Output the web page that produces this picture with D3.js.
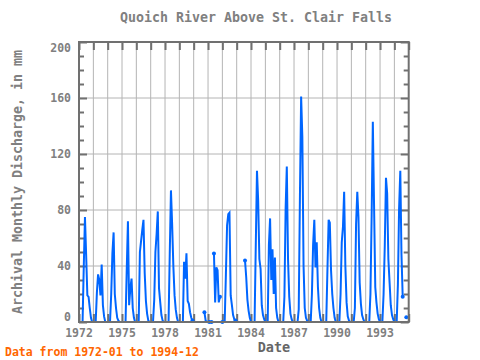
<!DOCTYPE html>
<html><head><meta charset="utf-8">
<script src="https://cdn.jsdelivr.net/npm/d3@7/dist/d3.min.js"></script>
<style>body{margin:0;background:#fff}svg{display:block}</style>
</head><body>
<svg id="chart" width="480" height="360"></svg>
<script>
// Monthly discharge (mm), Jan..Dec, null = missing
const q1972 = [0,0,0,0,39,75,48,19,18,10,3,0];
const q1973 = [0,0,0,21,34,30,19,41,12,4,0,0];
const q1974 = [0,0,0,20,49,64,20,10,3,1,0,0];
const q1975 = [0,0,0,0,37,72,12,24,31,10,3,0];
const q1976 = [0,0,0,50,58,66,73,35,15,6,1,0];
const q1977 = [0,0,0,16,50,63,79,24,14,5,1,0];
const q1978 = [0,0,0,0,48,94,70,40,19,9,3,0];
const q1979 = [0,0,0,0,43,31,49,15,13,7,3,1];
const q1980 = [null,null,null,null,null,null,null,null,null,7,1,0];
const q1981 = [0,0,null,0,null,49,14,39,37,14,18,null];
const q1982 = [0,0,0,34,69,77,78,19,12,5,2,1];
const q1983 = [null,null,null,null,null,null,null,44,32,16,8,3];
const q1984 = [0,0,0,0,54,108,87,45,38,12,5,2];
const q1985 = [0,0,0,55,74,30,52,20,46,10,3,0];
const q1986 = [0,0,0,0,18,81,111,45,18,6,2,0];
const q1987 = [0,0,0,0,9,91,161,132,40,10,3,1];
const q1988 = [0,0,0,20,55,73,39,57,25,10,3,0];
const q1989 = [0,0,0,0,37,73,71,37,20,10,3,0];
const q1990 = [0,0,0,20,57,68,93,40,14,4,1,0];
const q1991 = [0,0,0,10,70,93,75,28,13,5,2,0];
const q1992 = [0,0,0,0,20,76,143,84,25,14,6,2];
const q1993 = [0,0,0,20,54,103,92,45,28,12,5,2];
const q1994 = [0,0,0,27,81,108,48,18,null,null,3.4,null];

const years = [1972,1973,1974,1975,1976,1977,1978,1979,1980,1981,1982,1983,
               1984,1985,1986,1987,1988,1989,1990,1991,1992,1993,1994];
const yearValues = [q1972,q1973,q1974,q1975,q1976,q1977,q1978,q1979,q1980,q1981,q1982,q1983,
                    q1984,q1985,q1986,q1987,q1988,q1989,q1990,q1991,q1992,q1993,q1994];
const xTickYears = [1972,1975,1978,1981,1984,1987,1990,1993];
const yTickValues = [0,40,80,120,160,200];

const titleText = "Quoich River Above St. Clair Falls";
const yTitle = "Archival Monthly Discharge, in mm";
const xTitle = "Date";
const noteText = "Data from 1972-01 to 1994-12";

const data = [];
years.forEach((yr, k) => yearValues[k].forEach((v, m) => data.push({date: new Date(Date.UTC(yr, m, 1)), v})));

const svg = d3.select("#chart");
const pL = 79, pR = 408.7, pT = 42, pB = 322;
const x = d3.scaleUtc().domain([new Date(Date.UTC(1972,0,1)), new Date(Date.UTC(1995,0,1))]).range([pL, pR]);
const y = d3.scaleLinear().domain([0, 200]).range([pB, pT]);

const gray = "#707070", grid = "#b4b4b4", textGray = "#808080";
const font = "'DejaVu Sans Mono', monospace";

svg.append("rect").attr("width", 480).attr("height", 360).attr("fill", "#fff");

// gridlines
const allYears = d3.range(1973, 1995).map(yr => new Date(Date.UTC(yr,0,1)));
svg.append("g").selectAll("line").data(allYears).join("line")
  .attr("x1", d => x(d)).attr("x2", d => x(d)).attr("y1", pT).attr("y2", pB)
  .attr("stroke", grid).attr("stroke-width", 1);
svg.append("g").selectAll("line").data([40,80,120,160]).join("line")
  .attr("x1", pL).attr("x2", pR).attr("y1", d => y(d)).attr("y2", d => y(d))
  .attr("stroke", grid).attr("stroke-width", 1);

// axes (ticks inward)
const tickYears = d3.range(1972, 1996).map(yr => new Date(Date.UTC(yr,0,1)));
const axTop = d3.axisBottom(x).tickValues(tickYears).tickSize(8).tickFormat("");
const axBot = d3.axisTop(x).tickValues(tickYears).tickSize(8).tickFormat("");
const yMinor = d3.range(0, 201, 10).filter(v => v % 40 !== 0);
const yMajor = d3.range(0, 201, 40);
function styleAxis(g){ g.select(".domain").remove(); g.selectAll("line").attr("stroke", gray).attr("stroke-width", 2); }
svg.append("g").attr("transform", `translate(0,${pT})`).call(axTop).call(styleAxis);
svg.append("g").attr("transform", `translate(0,${pB})`).call(axBot).call(styleAxis);
svg.append("g").attr("transform", `translate(${pL},0)`).call(d3.axisRight(y).tickValues(yMinor).tickSize(5).tickFormat("")).call(styleAxis);
svg.append("g").attr("transform", `translate(${pL},0)`).call(d3.axisRight(y).tickValues(yMajor).tickSize(8).tickFormat("")).call(styleAxis);
svg.append("g").attr("transform", `translate(${pR},0)`).call(d3.axisLeft(y).tickValues(yMinor).tickSize(5).tickFormat("")).call(styleAxis);
svg.append("g").attr("transform", `translate(${pR},0)`).call(d3.axisLeft(y).tickValues(yMajor).tickSize(8).tickFormat("")).call(styleAxis);

// data line
const blue = "#0066ff";
const line = d3.line().defined(d => d.v != null).x(d => x(d.date)).y(d => y(d.v));
svg.append("path").datum(data).attr("d", line).attr("fill", "none")
  .attr("stroke", blue).attr("stroke-width", 2).attr("stroke-linejoin", "miter");
const ends = data.filter((d, i) => d.v != null &&
  ((i > 0 && data[i-1].v == null) || (i < data.length-1 && data[i+1].v == null)));
svg.append("g").selectAll("circle").data(ends).join("circle")
  .attr("cx", d => x(d.date)).attr("cy", d => y(d.v)).attr("r", 2).attr("fill", blue);

// frame
svg.append("rect").attr("x", pL).attr("y", pT).attr("width", pR-pL).attr("height", pB-pT)
  .attr("fill", "none").attr("stroke", gray).attr("stroke-width", 2);

// y tick labels
svg.append("g").selectAll("text").data(yTickValues).join("text")
  .attr("x", 71).attr("y", d => d === 200 ? y(d)+6 : d === 0 ? y(d)-5 : y(d))
  .attr("dy", "0.35em").attr("text-anchor", "end")
  .attr("font-family", font).attr("font-size", 11.5).attr("font-weight", "bold").attr("fill", textGray)
  .text(d => d);

// x tick labels
svg.append("g").selectAll("text").data(xTickYears).join("text")
  .attr("x", d => x(new Date(Date.UTC(d,0,1)))).attr("y", 337).attr("text-anchor", "middle")
  .attr("font-family", font).attr("font-size", 11.5).attr("font-weight", "bold").attr("fill", textGray)
  .text(d => d);

// titles
svg.append("text").attr("x", 256).attr("y", 22).attr("text-anchor", "middle")
  .attr("font-family", font).attr("font-size", 13.3).attr("font-weight", "bold").attr("fill", textGray)
  .text(titleText);
svg.append("text").attr("transform", `translate(22,${(pT+pB)/2}) rotate(-90)`).attr("text-anchor", "middle")
  .attr("font-family", font).attr("font-size", 13.3).attr("font-weight", "bold").attr("fill", textGray)
  .text(yTitle);
svg.append("text").attr("x", 274).attr("y", 352).attr("text-anchor", "middle")
  .attr("font-family", font).attr("font-size", 13.5).attr("font-weight", "bold").attr("fill", "#666")
  .text(xTitle);
svg.append("text").attr("x", 5).attr("y", 356)
  .attr("font-family", font).attr("font-size", 11.5).attr("font-weight", "bold").attr("fill", "#ff6600")
  .text(noteText);
</script>
</body></html>
